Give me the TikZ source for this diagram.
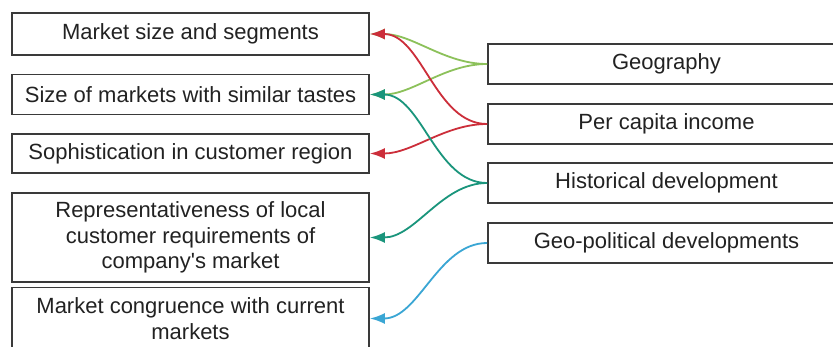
\documentclass[tikz,border=0pt]{standalone}
\usepackage{fontspec}
\setmainfont{Liberation Sans}
\usetikzlibrary{arrows.meta}
\definecolor{ink}{HTML}{222222}
\definecolor{frame}{HTML}{3A3A3A}
\definecolor{lgreen}{HTML}{8CC15A}
\definecolor{lred}{HTML}{CC2E3A}
\definecolor{lteal}{HTML}{1A957C}
\definecolor{lblue}{HTML}{3AA6D4}
\tikzset{
  box/.style={draw=frame, line width=1.8pt, fill=white, text=ink,
    minimum width=357pt, inner sep=0pt, align=center,
    font=\fontsize{22}{25.5}\selectfont},
  link/.style={line width=1.8pt, -{Latex[length=15pt,width=11pt]},
    out=180, in=0, looseness=0.9},
}
\begin{document}
\begin{tikzpicture}[x=1pt,y=-1pt]
  \useasboundingbox (0,0) rectangle (833,347);
  \clip (0,0) rectangle (833,347);
  \fill[white] (0,0) rectangle (833,347);

  % factors shaping the market
  \node[box, minimum height=42pt] (m1) at (190.5,34) {Market size and segments};
  \node[box, minimum height=40pt] (m2) at (190.5,94.5) {Size of markets with similar tastes};
  \node[box, minimum height=39pt] (m3) at (190.5,153.5) {Sophistication in customer region};
  \node[box, minimum height=89pt] (m4) at (190.5,237.5)
    {Representativeness of local\\customer requirements of\\company\textquotesingle s market};
  \node[box, minimum height=62pt] (m5) at (190.5,318.5)
    {Market congruence with current\\markets};

  % drivers
  \node[box, minimum height=40pt] (d1) at (666.5,64) {Geography};
  \node[box, minimum height=40pt] (d2) at (666.5,124) {Per capita income};
  \node[box, minimum height=40pt] (d3) at (666.5,183) {Historical development};
  \node[box, minimum height=40pt] (d4) at (666.5,243) {Geo-political developments};

  % connectors
  \draw[link, lgreen] (d1.west) to (m1.east);
  \draw[link, lgreen] (d1.west) to (m2.east);
  \draw[link, lred] (d2.west) to (m1.east);
  \draw[link, lred] (d2.west) to (m3.east);
  \draw[link, lteal] (d3.west) to (m2.east);
  \draw[link, lteal] (d3.west) to (m4.east);
  \draw[link, lblue] (d4.west) to (m5.east);
\end{tikzpicture}
\end{document}
